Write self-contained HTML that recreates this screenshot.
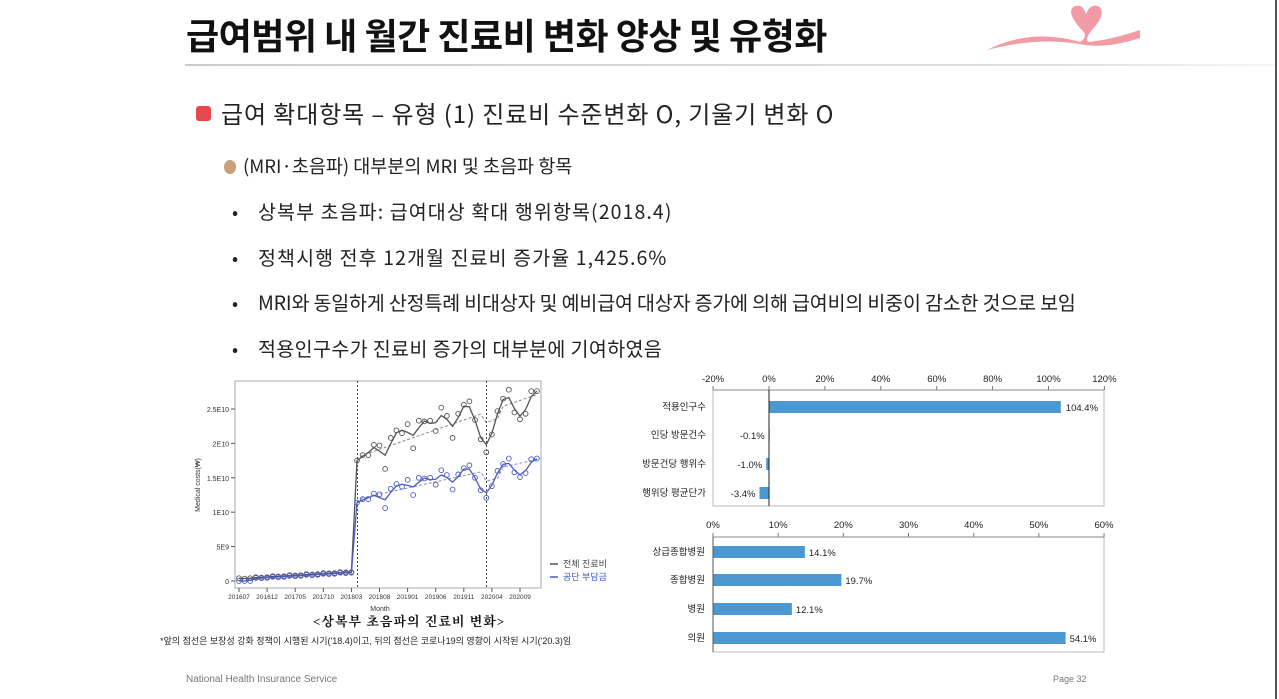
<!DOCTYPE html>
<html><head><meta charset="utf-8"><style>
body{margin:0;width:1279px;height:699px;background:#fff;position:relative;overflow:hidden;font-family:"Noto Sans CJK KR",sans-serif;}
.a{position:absolute;white-space:nowrap;}
.b{position:absolute;left:258px;font-size:19.5px;color:#222;line-height:26px;white-space:nowrap}
.d{position:absolute;left:232px;font-size:18px;color:#222;line-height:26px}
</style></head><body>
<div class="a" style="left:186px;top:9px;font-size:36px;font-weight:bold;color:#111;letter-spacing:-0.5px;line-height:50px">급여범위 내 월간 진료비 변화 양상 및 유형화</div>
<div class="a" style="left:185px;top:64px;width:1090px;height:2px;background:linear-gradient(90deg,#ccc,#e0e0e0 80%,#f5f5f5)"></div>
<div class="a" style="left:1275px;top:0;width:2px;height:699px;background:#555"></div>
<svg class="a" style="left:980px;top:0" width="170" height="60"><path d="M7 50 Q50 28 100 42 Q110 36 100 28 Q85 10 95 6 Q103 4 106 14 Q110 4 118 6 Q128 12 112 30 Q105 38 108 42 Q130 40 160 30 L160 38 Q130 48 105 45 Q60 36 7 50Z" fill="#f08a95" opacity="0.85"/></svg>
<div class="a" style="left:196px;top:106px;width:15px;height:15px;background:#e8484c;border-radius:3px"></div>
<div class="a" style="left:221px;top:98px;font-size:24px;letter-spacing:0.9px;color:#222;line-height:30px">급여 확대항목 – 유형 (1) 진료비 수준변화 O, 기울기 변화 O</div>
<div class="a" style="left:224px;top:160px;width:12px;height:14px;background:#c9a07a;border-radius:50%"></div>
<div class="a" style="left:243px;top:153px;font-size:18.5px;color:#222;line-height:26px">(MRI·초음파) 대부분의 MRI 및 초음파 항목</div>
<div class="d" style="top:199px">•</div><div class="b" style="top:198px;letter-spacing:1.1px">상복부 초음파: 급여대상 확대 행위항목(2018.4)</div>
<div class="d" style="top:245px">•</div><div class="b" style="top:244px;letter-spacing:1.1px">정책시행 전후 12개월 진료비 증가율 1,425.6%</div>
<div class="d" style="top:290px">•</div><div class="b" style="top:289px;letter-spacing:-0.15px">MRI와 동일하게 산정특례 비대상자 및 예비급여 대상자 증가에 의해 급여비의 비중이 감소한 것으로 보임</div>
<div class="d" style="top:336px">•</div><div class="b" style="top:335px;letter-spacing:0.4px">적용인구수가 진료비 증가의 대부분에 기여하였음</div>

<svg class="a" id="lc" style="left:0;top:0" width="700" height="699" font-family="Liberation Sans,Noto Sans CJK KR,sans-serif"></svg>
<div class="a" style="left:313px;top:611px;font-size:13px;font-weight:bold;color:#111;font-family:'Liberation Serif','Noto Serif CJK SC',serif;letter-spacing:1px">&lt;상복부 초음파의 진료비 변화&gt;</div>
<div class="a" style="left:160px;top:634px;font-size:9px;color:#222;font-family:'Liberation Sans','Noto Sans CJK KR',sans-serif">*앞의 점선은 보장성 강화 정책이 시행된 시기('18.4)이고, 뒤의 점선은 코로나19의 영향이 시작된 시기('20.3)임</div>
<div class="a" style="left:186px;top:674px;font-size:10px;color:#777;font-family:'Liberation Sans',sans-serif">National Health Insurance Service</div>
<div class="a" style="left:1053px;top:674px;font-size:9px;color:#777;font-family:'Liberation Sans',sans-serif">Page 32</div>

<svg class="a" id="rc" style="left:0;top:0" width="1279" height="699" font-family="Liberation Sans,Noto Sans CJK KR,sans-serif"></svg>
<script>
var s='';
var X=m=>239+5.62*m, Y=v=>581-68.8*v;
s+='<rect x="235" y="381" width="306" height="207" fill="none" stroke="#aaa"/>';
[0,0.5,1,1.5,2,2.5].forEach((v,i)=>{var lab=['0','5E9','1E10','1.5E10','2E10','2.5E10'][i];s+=`<line x1="231" x2="235" y1="${Y(v)}" y2="${Y(v)}" stroke="#555"/><text x="229" y="${Y(v)+3}" font-size="7" text-anchor="end" fill="#333">${lab}</text>`;});
['201607','201612','201705','201710','201803','201808','201901','201906','201911','202004','202009'].forEach((t,i)=>{var x=X(i*5);s+=`<line x1="${x}" x2="${x}" y1="588" y2="592" stroke="#555"/><text x="${x}" y="599" font-size="6.5" text-anchor="middle" fill="#333">${t}</text>`;});
s+='<text x="380" y="611" font-size="7" text-anchor="middle" fill="#333">Month</text>';
s+='<text transform="translate(200,485) rotate(-90)" font-size="7" text-anchor="middle" fill="#333">Medical costs(₩)</text>';
s+=`<line x1="357.5" x2="357.5" y1="381" y2="588" stroke="#444" stroke-dasharray="2,2"/><line x1="486.5" x2="486.5" y1="381" y2="588" stroke="#444" stroke-dasharray="2,2"/>`;
var B=[1.75,1.83,1.83,1.98,1.97,1.63,2.08,2.19,2.15,2.28,1.93,2.33,2.32,2.33,2.18,2.52,2.40,2.08,2.43,2.56,2.61,2.34,2.06,1.87,2.13,2.47,2.65,2.78,2.45,2.35,2.43,2.76,2.76];
var L=[1.14,1.19,1.19,1.27,1.26,1.06,1.34,1.41,1.37,1.47,1.25,1.50,1.49,1.50,1.40,1.61,1.54,1.33,1.55,1.64,1.68,1.50,1.32,1.21,1.38,1.60,1.70,1.78,1.58,1.51,1.57,1.77,1.78];
var pre=[],preB=[];for(var m=0;m<21;m++){var v=0.02+m*0.005+(m%3==0?0.01:0);pre.push(v);preB.push(v+0.01);}
pre[0]=0;pre[1]=0;pre[2]=0;
function series(pr,post,col){var pts=pr.concat(post);var sm=pts.map((v,i)=>{var a=pts[i-1]??v,c=pts[i+1]??v;if(i==20||i==21)return v;return (a+2*v+c)/4;});
var d=sm.map((v,i)=>(i?'L':'M')+X(i).toFixed(1)+' '+Y(v).toFixed(1)).join(' ');s+=`<path d="${d}" fill="none" stroke="${col}" stroke-width="1.3"/>`;
var tr=post.map((v,i)=>{var m=i+21;return post[0]+ (post[post.length-1]-post[0])*i/(post.length-1)*0.9+0.05*(i>0?1:0) - (m>=44&&m<47?0.15:0)});
s+=`<path d="${tr.map((v,i)=>(i?'L':'M')+X(i+21).toFixed(1)+' '+Y(v).toFixed(1)).join(' ')}" fill="none" stroke="${col}" stroke-width="1" stroke-dasharray="3,2" opacity="0.7"/>`;
pts.forEach((v,i)=>{s+=`<circle cx="${X(i).toFixed(1)}" cy="${Y(v).toFixed(1)}" r="2.4" fill="none" stroke="${col}" stroke-width="0.9"/>`;});}
series(preB,B,'#555');series(pre,L,'#4a5cc0');
s+='<line x1="550" x2="558" y1="564" y2="564" stroke="#555" stroke-width="1.5"/><text x="563" y="567" font-size="9" fill="#444">전체 진료비</text>';
s+='<line x1="550" x2="558" y1="577" y2="577" stroke="#4a5cc0" stroke-width="1.5"/><text x="563" y="580" font-size="9" fill="#3a5cc0">공단 부담금</text>';
document.getElementById('lc').innerHTML=s;
var r='';
var z=769,k=55.9/20;
r+='<rect x="713" y="390" width="391" height="116" fill="none" stroke="#bbb"/>';
[-20,0,20,40,60,80,100,120].forEach(p=>{var x=z+p*k;r+=`<line x1="${x}" x2="${x}" y1="386" y2="390" stroke="#777"/><text x="${x}" y="382" font-size="9.5" text-anchor="middle" fill="#222">${p}%</text>`;});
r+='<line x1="713" x2="1104" y1="390" y2="390" stroke="#888"/>';
[['적용인구수',104.4,407],['인당 방문건수',-0.1,435],['방문건당 행위수',-1.0,464],['행위당 평균단가',-3.4,493]].forEach(a=>{var v=a[1],y=a[2];var x1=Math.min(z,z+v*k),w=Math.abs(v*k);r+=`<rect x="${x1}" y="${y-6}" width="${Math.max(w,1)}" height="12" fill="#4a97d2"/><text x="706" y="${y+3}" font-size="9.5" text-anchor="end" fill="#222">${a[0]}</text>`;
r+= v>0?`<text x="${z+v*k+5}" y="${y+4}" font-size="9.5" fill="#222">${v}%</text>`:`<text x="${x1-4}" y="${y+4}" font-size="9.5" text-anchor="end" fill="#222">${v.toFixed(1)}%</text>`;});
r+=`<line x1="${z}" x2="${z}" y1="390" y2="506" stroke="#222"/>`;
var k2=65.17/10;
r+='<rect x="713" y="537" width="391" height="115" fill="none" stroke="#bbb"/>';
[0,10,20,30,40,50,60].forEach(p=>{var x=713+p*k2;r+=`<line x1="${x}" x2="${x}" y1="533" y2="537" stroke="#777"/><text x="${x}" y="528" font-size="9.5" text-anchor="middle" fill="#222">${p}%</text>`;});
r+='<line x1="713" x2="1104" y1="537" y2="537" stroke="#888"/>';
[['상급종합병원',14.1,552],['종합병원',19.7,580],['병원',12.1,609],['의원',54.1,638]].forEach(a=>{var w=a[1]*k2;r+=`<rect x="713" y="${a[2]-6}" width="${w}" height="12" fill="#4a97d2"/><text x="705" y="${a[2]+3}" font-size="9.5" text-anchor="end" fill="#222">${a[0]}</text><text x="${713+w+4}" y="${a[2]+4}" font-size="9.5" fill="#222">${a[1]}%</text>`;});
r+='<line x1="713" x2="713" y1="537" y2="652" stroke="#555"/>';
document.getElementById('rc').innerHTML=r;
</script>
</body></html>
